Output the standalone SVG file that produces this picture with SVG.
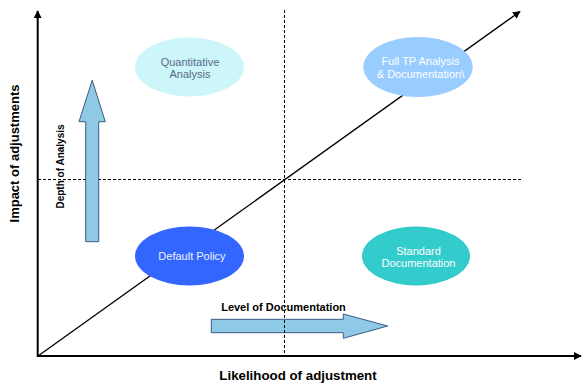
<svg xmlns="http://www.w3.org/2000/svg" width="582" height="385" viewBox="0 0 582 385">
<defs>
<style>
.ax{stroke:#000;stroke-width:2;fill:none}
.dash{stroke:#000;stroke-width:1;stroke-dasharray:3 2;fill:none}
.blk{fill:#8ecae6;stroke:#3f5a84;stroke-width:1}
.lbl{font-family:"Liberation Sans",Arial,sans-serif;font-weight:bold;fill:#000}
.nt{font-family:"Liberation Sans",Arial,sans-serif;font-size:11px;text-anchor:middle}
</style>
<marker id="ah" viewBox="0 0 10 10" refX="9" refY="5" markerWidth="4" markerHeight="4" markerUnits="strokeWidth" orient="auto">
<path d="M0,0 L10,5 L0,10 Z" fill="#000"/>
</marker>
<marker id="ah2" viewBox="0 0 10 10" refX="9" refY="5" markerWidth="6" markerHeight="6" markerUnits="strokeWidth" orient="auto">
<path d="M0,0 L10,5 L0,10 Z" fill="#000"/>
</marker>
</defs>
<rect width="582" height="385" fill="#fff"/>
<g id="connectors">
<line class="dash" x1="38" y1="179.5" x2="521" y2="179.5"/>
<line x1="38" y1="356" x2="520" y2="11.5" stroke="#000" stroke-width="1.3" marker-end="url(#ah2)"/>
<line class="ax" x1="37.7" y1="357" x2="37.7" y2="11" marker-end="url(#ah)"/>
<line class="ax" x1="37" y1="356" x2="581" y2="356" marker-end="url(#ah)"/>
</g>
<g id="depth-arrow">
<polygon class="blk" points="85.7,241.7 98.7,241.7 98.7,121.7 105.3,121.7 92.2,80.3 79,121.7 85.7,121.7"/>
<text class="lbl" font-size="10" transform="translate(63.5,166.5) rotate(-90)" text-anchor="middle">Depth of Analysis</text>
</g>
<g id="doc-arrow">
<polygon class="blk" points="211.3,319.3 343.3,319.3 343.3,314 387.7,326 343.3,338.3 343.3,332.7 211.3,332.7"/>
<text class="lbl" font-size="11" x="283.5" y="311" text-anchor="middle">Level of Documentation</text>
</g>
<line class="dash" x1="284.5" y1="10" x2="284.5" y2="356"/>
<g id="quantitative">
<ellipse cx="189.5" cy="67" rx="54.5" ry="29.5" fill="#ccf6f9"/>
<text class="nt" fill="#5a6a8a" x="190" y="65.5">Quantitative</text>
<text class="nt" fill="#5a6a8a" x="190" y="78">Analysis</text>
</g>
<g id="full-tp">
<ellipse cx="418" cy="67" rx="54.7" ry="30" fill="#99ccff"/>
<text class="nt" fill="#fff" x="420.5" y="65">Full TP Analysis</text>
<text class="nt" fill="#fff" x="420.5" y="78">&amp; Documentation\</text>
</g>
<g id="default-policy">
<ellipse cx="189.5" cy="256" rx="54.5" ry="29.5" fill="#3366ff"/>
<text class="nt" fill="#eef2ff" x="192" y="260">Default Policy</text>
</g>
<g id="standard-doc">
<ellipse cx="416" cy="256" rx="54" ry="29.5" fill="#33cccc"/>
<text class="nt" fill="#fff" x="418.5" y="254.5">Standard</text>
<text class="nt" fill="#fff" x="418.5" y="267">Documentation</text>
</g>
<text class="lbl" font-size="13" transform="translate(18.5,153.5) rotate(-90)" text-anchor="middle">Impact of adjustments</text>
<text class="lbl" font-size="13.3" x="298" y="379.5" text-anchor="middle">Likelihood of adjustment</text>
</svg>
